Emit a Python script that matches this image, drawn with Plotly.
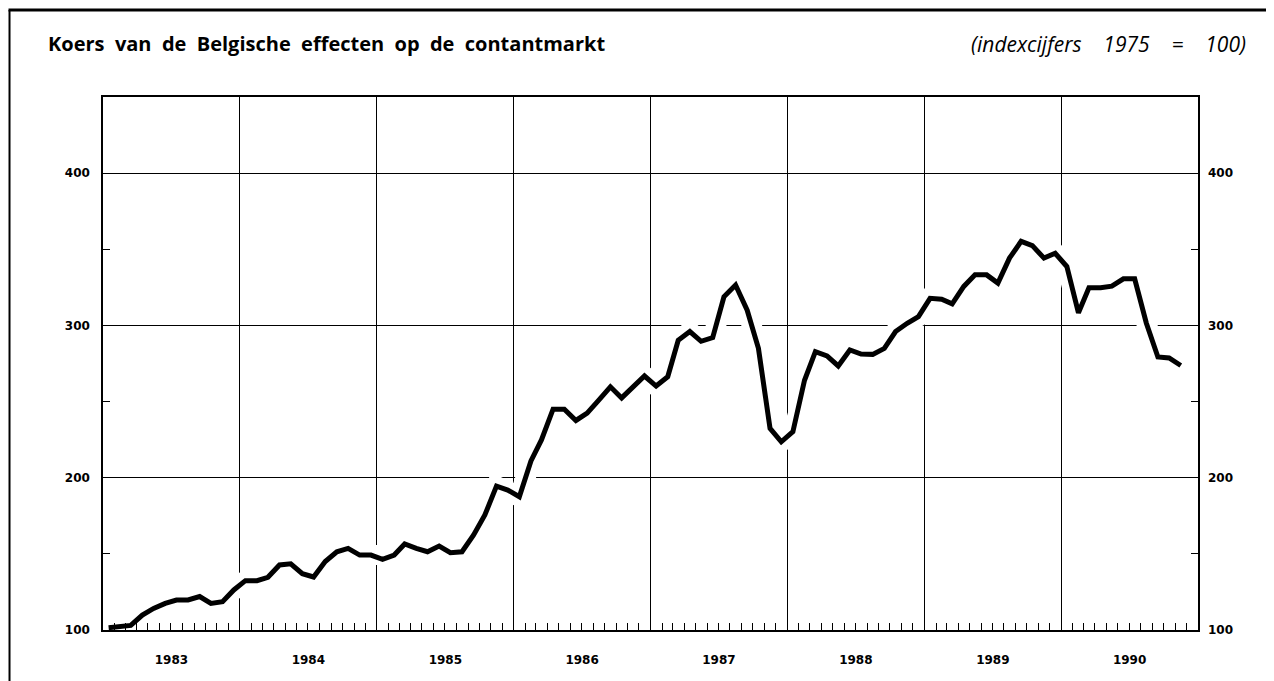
import plotly.graph_objects as go

years = list(range(1983, 1991))
# monthly index values (mid-month), Jan 1983 .. Nov 1990
v1983 = [101.5, 102, 103, 109.8, 114.2, 117.5, 119.7, 119.7, 122, 117.5, 118.6, 126.3]
v1984 = [132.4, 132.4, 134.6, 142.7, 143.5, 137, 134.8, 145, 151.4, 153.6, 149.2, 149.2]
v1985 = [146.4, 149.2, 156.5, 153.6, 151.4, 155.1, 150.8, 151.4, 162.4, 175.5, 194.5, 191.9]
v1986 = [187.5, 211, 224.8, 245, 245, 237.6, 242.4, 251, 259.7, 252.4, 260, 266.8]
v1987 = [260.2, 266.3, 290.3, 296, 289.6, 292, 318.8, 326.5, 310, 285, 232.4, 223.6]
v1988 = [230.2, 264, 282.8, 280, 273.4, 283.9, 281.2, 281, 284.9, 296, 301.4, 305.8]
v1989 = [317.8, 317.2, 314.2, 325.6, 333.2, 333.2, 327.8, 344.2, 355.2, 352.4, 344.2, 347.4]
v1990 = [338.7, 308.3, 324.7, 324.7, 325.8, 330.6, 330.6, 301.6, 279.3, 278.6, 273.7]

series = [v1983, v1984, v1985, v1986, v1987, v1988, v1989, v1990]
dates, values = [], []
for y, vals in zip(years, series):
    for m, v in enumerate(vals, start=1):
        dates.append(f"{y}-{m:02d}-16")
        values.append(v)

y_ticks = [100, 200, 300, 400]
y_minor = [150, 250, 350]

W, H = 1266, 673
L, R, T, B = 94.5, 1189.7, 89, 622
PW, PH = R - L, B - T

def px(x):
    return (x - L) / PW

def py(y):
    return (B - y) / PH

fig = go.Figure()
# white halo to break gridlines around the curve
fig.add_trace(go.Scatter(x=dates, y=values, mode="lines",
                         line=dict(color="white", width=20),
                         hoverinfo="skip", showlegend=False))
fig.add_trace(go.Scatter(x=dates, y=values, mode="lines",
                         line=dict(color="black", width=5),
                         showlegend=False))
# invisible trace carrying the right-hand axis
fig.add_trace(go.Scatter(x=dates, y=values, mode="lines", yaxis="y2",
                         line=dict(color="rgba(0,0,0,0)", width=0),
                         hoverinfo="skip", showlegend=False))

tickfont = dict(family="DejaVu Sans", size=12, color="black", weight="bold")

sp = "&nbsp;"
subtitle = "(indexcijfers" + sp * 3 + " 1975" + sp * 3 + " =" + sp * 3 + " 100)"

fig.update_layout(
    width=W, height=H,
    margin=dict(l=L, r=W - R, t=T, b=H - B),
    paper_bgcolor="white", plot_bgcolor="white",
    title=dict(text="<b>Koers &nbsp;van &nbsp;de &nbsp;Belgische &nbsp;effecten &nbsp;op &nbsp;de &nbsp;contantmarkt</b>",
               x=40 / W, xanchor="left", y=1 - 36 / H, yanchor="middle",
               font=dict(family="Open Sans", size=20, color="black")),
    xaxis=dict(type="date", range=["1983-01-01", "1991-01-01"],
               tick0="1983-01-01", dtick="M12", ticklabelmode="period",
               tickformat="%Y", ticks="", showgrid=True, gridcolor="black",
               gridwidth=1.3, showline=True, linecolor="black", linewidth=1.5,
               mirror=True, tickfont=tickfont, ticklabelstandoff=18,
               minor=dict(dtick="M1", ticks="inside", ticklen=7,
                          tickcolor="black", tickwidth=1.3, showgrid=False),
               zeroline=False),
    yaxis=dict(range=[100, 450], tickvals=y_ticks, ticks="",
               showgrid=True, gridcolor="black", gridwidth=1.3,
               showline=True, linecolor="black", linewidth=1.5, mirror=True,
               tickfont=tickfont, ticklabelstandoff=9, zeroline=False,
               minor=dict(tickvals=y_minor, ticks="inside", ticklen=7,
                          tickcolor="black", tickwidth=1.3, showgrid=False)),
    yaxis2=dict(range=[100, 450], tickvals=y_ticks, ticks="", overlaying="y",
                side="right", showgrid=False, showline=False, zeroline=False,
                tickfont=tickfont, ticklabelstandoff=9,
                minor=dict(tickvals=y_minor, ticks="inside", ticklen=7,
                           tickcolor="black", tickwidth=1.3, showgrid=False)),
    annotations=[dict(text="<i>" + subtitle + "</i>",
                      xref="paper", yref="paper", x=px(1240), y=py(36),
                      xanchor="right", yanchor="middle", showarrow=False,
                      font=dict(family="Open Sans", size=21, color="black"))],
    shapes=[
        dict(type="line", xref="paper", yref="paper",
             x0=px(0), x1=px(W), y0=py(2), y1=py(2),
             line=dict(color="black", width=3)),
        dict(type="line", xref="paper", yref="paper",
             x0=px(1), x1=px(1), y0=py(2), y1=py(H),
             line=dict(color="black", width=2)),
    ],
)

fig.write_html("out.html")
